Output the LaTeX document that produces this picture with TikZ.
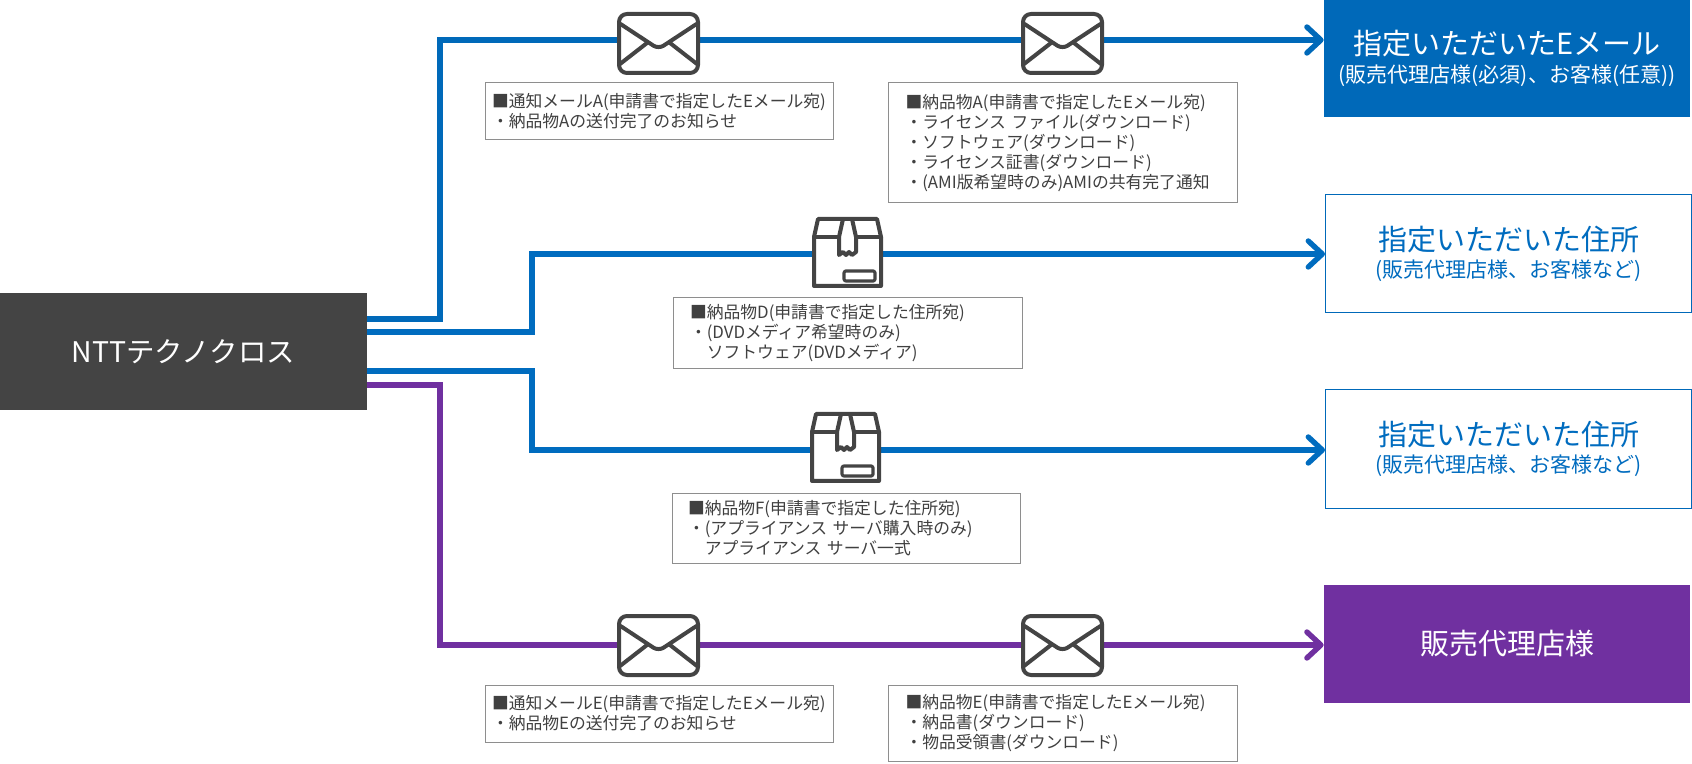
\documentclass[tikz,border=0pt]{standalone}
\usepackage{fontspec}
\setmainfont{Noto Sans CJK JP}
\usepackage{xcolor}
\usepackage{tikz}
\usetikzlibrary{arrows.meta}

\definecolor{mailblue}{HTML}{0069B9}
\definecolor{linkblue}{HTML}{006CBF}
\definecolor{resellerpurple}{HTML}{7030A0}
\definecolor{darkbox}{HTML}{444444}
\definecolor{notetext}{HTML}{404040}
\definecolor{noteline}{HTML}{8E8E8E}

\newcommand{\bigfont}{\fontsize{14.5}{15}\selectfont}
\newcommand{\smallfont}{\fontsize{10.5}{15}\selectfont}

\tikzset{
    route/.style={line width=2.7pt, line join=miter, -{Straight Barb[length=7pt, width=13pt, round]}},
    bluefill/.style={fill=mailblue, text=white, minimum width=183pt, minimum height=59pt, align=center},
    blueline/.style={draw=mailblue, fill=white, text=linkblue, line width=0.5pt, minimum width=183pt, minimum height=59pt, align=center},
    notebox/.style={draw=noteline, line width=0.5pt, fill=white, text=notetext, align=left, font=\fontsize{8.4}{10}\selectfont},
    icon/.style={draw=darkbox, line width=2pt, line join=round, line cap=round},
    pics/mailicon/.style={code={
        \draw[icon, fill=white, rounded corners=4pt] (1,1) rectangle (80,60);
        \draw[icon, rounded corners=3pt] (2.5,11) -- (40.5,36) -- (78.5,11);
        \draw[icon] (2,51) -- (29,30);
        \draw[icon] (79,51) -- (52,30);
    }},
    pics/parcelicon/.style={code={
        \draw[icon, fill=white] (1,19) -- (5,1) -- (64,1) -- (68,19) -- (68,68) -- (1,68) -- cycle;
        \draw[icon] (1,19) -- (26,19);
        \draw[icon] (43,19) -- (68,19);
        \draw[icon] (30,1) -- (26,19) -- (26,37) -- (30,34) -- (33,37) -- (36,34) -- (39,37) -- (43,34) -- (43,19) -- (39,1);
        \draw[icon, line width=1.6pt, rounded corners=1pt] (31,53) rectangle (62,63);
    }},
}

\begin{document}
\begin{tikzpicture}[x=0.5pt, y=-0.5pt]
    \useasboundingbox (0, 0) rectangle (1692, 764);

    \node[fill=darkbox, text=white, minimum width=183.5pt, minimum height=58.5pt, font=\fontsize{14.2}{15}\selectfont] at (183.5, 352) (main) {\raisebox{1pt}{NTTテクノクロス}};

    \node[bluefill] at (1507, 58.5) (dest1) {{\bigfont 指定いただいたEメール}\\[1.7pt]{\smallfont (販売代理店様(必須)、お客様(任意))}};
    \node[blueline] at (1508.5, 254) (dest2) {{\bigfont 指定いただいた住所}\\[1.7pt]{\smallfont (販売代理店様、お客様など)}};
    \node[blueline] at (1508.5, 449) (dest3) {{\bigfont 指定いただいた住所}\\[1.7pt]{\smallfont (販売代理店様、お客様など)}};
    \node[bluefill, fill=resellerpurple] at (1507, 643.5) (dest4) {\raisebox{1pt}{\bigfont 販売代理店様}};

    \coordinate (m1) at (367, 319);
    \coordinate (m2) at (367, 332);
    \coordinate (m3) at (367, 371);
    \coordinate (m4) at (367, 385);
    \coordinate (b1) at (440, 40);
    \coordinate (b2) at (532, 254);
    \coordinate (b3) at (532, 450);
    \coordinate (b4) at (440, 645);

    \draw[route, draw=mailblue] (m1) -| (b1) -- (b1 -| dest1.west);
    \draw[route, draw=linkblue] (m2) -| (b2) -- (b2 -| dest2.west);
    \draw[route, draw=linkblue] (m3) -| (b3) -- (b3 -| dest3.west);
    \draw[route, draw=resellerpurple] (m4) -| (b4) -- (b4 -| dest4.west);

    \pic (mail1) at (618, 13) {mailicon};
    \pic (mail2) at (1022, 13) {mailicon};
    \pic (parcel1) at (813, 218) {parcelicon};
    \pic (parcel2) at (811, 413) {parcelicon};
    \pic (mail3) at (618, 615) {mailicon};
    \pic (mail4) at (1022, 615) {mailicon};

    \node[notebox, text width=167pt, inner xsep=3.5pt, minimum height=28.5pt] at (659, 111.5) (note1) {■通知メールA(申請書で指定したEメール宛)\\・納品物Aの送付完了のお知らせ};
    \node[notebox, text width=157.25pt, inner xsep=8.5pt, minimum height=60pt] at (1062.75, 143) (note2) {■納品物A(申請書で指定したEメール宛)\\・ライセンス ファイル(ダウンロード)\\・ソフトウェア(ダウンロード)\\・ライセンス証書(ダウンロード)\\・(AMI版希望時のみ)AMIの共有完了通知};
    \node[notebox, text width=157.5pt, inner xsep=8.5pt, minimum height=35pt] at (847.5, 333) (note3) {■納品物D(申請書で指定した住所宛)\\・(DVDメディア希望時のみ)\\\hspace*{1em}ソフトウェア(DVDメディア)};
    \node[notebox, text width=158pt, inner xsep=8pt, minimum height=34.5pt] at (846, 528.5) (note4) {■納品物F(申請書で指定した住所宛)\\・(アプライアンス サーバ購入時のみ)\\\hspace*{1em}アプライアンス サーバ一式};
    \node[notebox, text width=167pt, inner xsep=3.5pt, minimum height=28.5pt] at (659, 713.5) (note5) {■通知メールE(申請書で指定したEメール宛)\\・納品物Eの送付完了のお知らせ};
    \node[notebox, text width=157.25pt, inner xsep=8.5pt, minimum height=38pt] at (1062.75, 723) (note6) {■納品物E(申請書で指定したEメール宛)\\・納品書(ダウンロード)\\・物品受領書(ダウンロード)};
\end{tikzpicture}
\end{document}
